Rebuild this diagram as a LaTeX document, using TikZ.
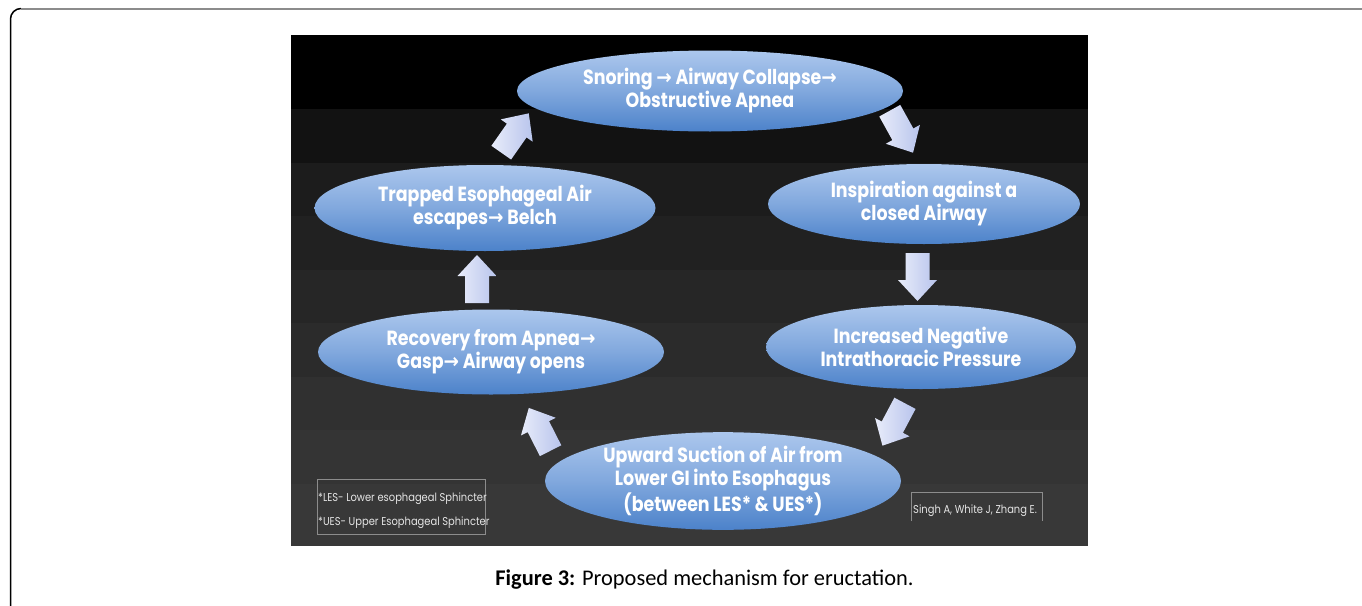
\documentclass[tikz,border=0pt]{standalone}
\usepackage{fontspec}
\usetikzlibrary{shapes.geometric}
\setmainfont{Carlito}
\newfontfamily\ellfont[FakeStretch=0.85]{Poppins}
\newfontfamily\smallfont[FakeStretch=0.87]{Poppins}
\newfontfamily\arrfont[FakeStretch=0.9]{DejaVu Sans}
\newcommand\rarr{{\arrfont →}}
\definecolor{ellTop}{RGB}{172,199,237}
\definecolor{ellBot}{RGB}{76,130,202}
\definecolor{arrA}{RGB}{232,236,250}
\definecolor{arrB}{RGB}{184,196,236}
\definecolor{boxgray}{RGB}{140,140,140}
\tikzset{
  ell/.style={shape=ellipse, inner sep=0pt, top color=ellTop, bottom color=ellBot,
    middle color=ellTop!55!ellBot, text=white, align=center,
    font=\ellfont\bfseries\fontsize{20.5}{23}\selectfont},
  barr/.style={left color=arrA, right color=arrB},
  legend/.style={text=white!90!black, font=\smallfont\fontsize{11.4}{12}\selectfont, inner sep=0pt, anchor=west},
}
\newcommand\blockarrow[4]{%
  \begin{scope}[shift={(#2,#3)}, rotate=#4]
    \coordinate (#1) at (0,0);
    \shade[barr] (-24,-12) -- (3,-12) -- (3,-19.5) -- (24,0) -- (3,19.5) -- (3,12) -- (-24,12) -- cycle;
  \end{scope}}
\begin{document}
\begin{tikzpicture}[x=1pt,y=-1pt]
\useasboundingbox (0,0) rectangle (1362,605);
\fill[white] (0,0) rectangle (1362,605);
% outer frame
\draw[black, line width=1.5] (10.5,606) -- (10.5,19) arc[start angle=180, end angle=270, radius=10.5];
\draw[gray!90, line width=2] (21,8.5) -- (1363,8.5);
% background image bands
\fill[black] (291,35) rectangle (1088,109);
\fill[black!93] (291,109) rectangle (1088,163);
\fill[black!89] (291,163) rectangle (1088,216);
\fill[black!87] (291,216) rectangle (1088,270);
\fill[black!85] (291,270) rectangle (1088,323);
\fill[black!83] (291,323) rectangle (1088,377);
\fill[black!81] (291,377) rectangle (1088,430);
\fill[black!79.5] (291,430) rectangle (1088,484);
\fill[black!78] (291,484) rectangle (1088,546);
% ellipses
\node[ell, minimum width=386, minimum height=81] (snore) at (710,91)
  {Snoring \rarr{} Airway Collapse\rarr\\Obstructive Apnea};
\node[ell, minimum width=312, minimum height=80] (insp) at (924,204)
  {Inspiration against a\\closed Airway};
\node[ell, minimum width=310, minimum height=84] (press) at (921,347)
  {Increased Negative\\Intrathoracic Pressure};
\node[ell, minimum width=356, minimum height=96] (suct) at (723,481)
  {Upward Suction of Air from\\Lower GI into Esophagus\\(between LES* \& UES*)};
\node[ell, minimum width=346, minimum height=85] (recov) at (491,352)
  {Recovery from Apnea\rarr\\Gasp\rarr{} Airway opens};
\node[ell, minimum width=341, minimum height=86] (trap) at (485,208)
  {Trapped Esophageal Air\\escapes\rarr{} Belch};
% block arrows
\blockarrow{a1}{515}{133}{55}
\blockarrow{a2}{901.4}{131.7}{-61}
\blockarrow{a3}{917.5}{277}{-90}
\blockarrow{a4}{893.7}{424.5}{-118}
\blockarrow{a5}{539.7}{429.3}{117}
\blockarrow{a6}{477}{279}{90}
% legend box
\draw[boxgray, line width=0.8] (317,479.5) rectangle (485.5,534);
\node[legend] (les) at (318,499) {*LES- Lower esophageal Sphincter};
\node[legend] (ues) at (318,523) {*UES- Upper Esophageal Sphincter};
% credit box
\draw[boxgray, line width=0.8] (911.5,521) -- (911.5,492) -- (1042.5,492) -- (1042.5,521);
\node[legend] (cred) at (913,511) {Singh A, White J, Zhang E.};
% caption
\node[font=\fontsize{22.4}{24}\selectfont, inner sep=0pt] (cap) at (704.5,580)
  {\textbf{Figure 3:} Proposed mechanism for eructation.};
\end{tikzpicture}
\end{document}
